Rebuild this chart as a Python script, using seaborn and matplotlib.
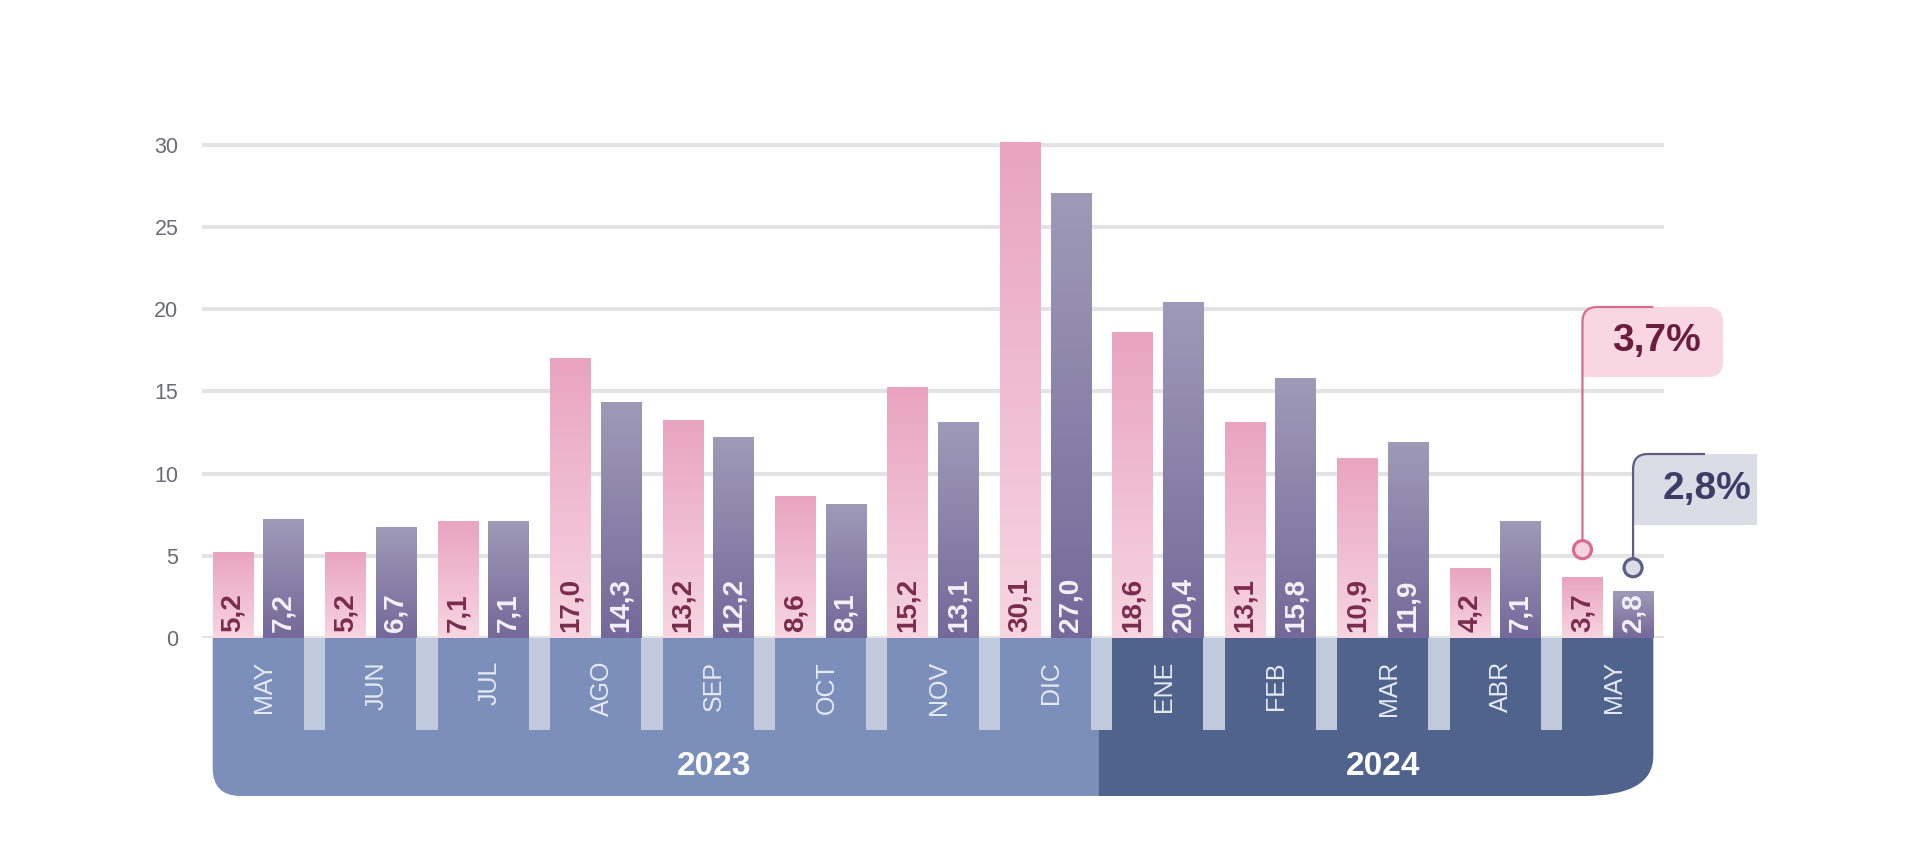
import numpy as np
import pandas as pd
import matplotlib
matplotlib.use("Agg")
import matplotlib.pyplot as plt
import seaborn as sns
from matplotlib import font_manager
from matplotlib.path import Path
from matplotlib.patches import PathPatch, Circle
from matplotlib.colors import LinearSegmentedColormap

# ---------------- data ----------------
periods = ["2023-05", "2023-06", "2023-07", "2023-08", "2023-09", "2023-10", "2023-11",
           "2023-12", "2024-01", "2024-02", "2024-03", "2024-04", "2024-05"]
month_labels = ["MAY", "JUN", "JUL", "AGO", "SEP", "OCT", "NOV", "DIC",
                "ENE", "FEB", "MAR", "ABR", "MAY"]
year_labels = ["2023", "2024"]
pink_values = [5.2, 5.2, 7.1, 17.0, 13.2, 8.6, 15.2, 30.1, 18.6, 13.1, 10.9, 4.2, 3.7]
purple_values = [7.2, 6.7, 7.1, 14.3, 12.2, 8.1, 13.1, 27.0, 20.4, 15.8, 11.9, 7.1, 2.8]
series_names = ["Serie rosa", "Serie violeta"]
callout_labels = ["3,7%", "2,8%"]
y_ticks = [0, 5, 10, 15, 20, 25, 30]

# ---------------- style ----------------
sns.set_theme(style="white")
plt.rcParams["font.family"] = ["Liberation Sans", "DejaVu Sans"]
installed = {f.name for f in font_manager.fontManager.ttflist}
month_font = ["Liberation Sans Narrow"] if "Liberation Sans Narrow" in installed else ["Liberation Sans"]
month_size = 22 if "Liberation Sans Narrow" in installed else 18

df = pd.DataFrame({
    "period": periods * 2,
    "value": pink_values + purple_values,
    "serie": [series_names[0]] * len(periods) + [series_names[1]] * len(periods),
})

W, H = 1920, 856
fig = plt.figure(figsize=(W / 100, H / 100), dpi=100, facecolor="white")
PX_PER_UNIT = 16.45
BASE_Y = 638
YMAX = 31
ax = fig.add_axes([202 / W, (H - BASE_Y) / H, 1462 / W, YMAX * PX_PER_UNIT / H])

sns.barplot(data=df, x="period", y="value", hue="serie", order=periods,
            hue_order=series_names, palette=["#eaa6c0", "#9a94b4"],
            width=0.9, gap=0.2, legend=False, errorbar=None, saturation=1,
            linewidth=0, ax=ax)
ax.set_xlim(-0.5, len(periods) - 0.5)
ax.set_ylim(0, YMAX)

# gradients on bars
grad_cols = [("#f7d5e1", "#e9a4bf"), ("#74699a", "#9f9ab8")]  # (bottom, top)
grad = np.linspace(0, 1, 256).reshape(-1, 1)
for cont, (cb, ct) in zip(ax.containers, grad_cols):
    cmap = LinearSegmentedColormap.from_list("g", [cb, ct])
    for bar in cont:
        x0, y0 = bar.get_x(), bar.get_y()
        w, h = bar.get_width(), bar.get_height()
        ax.imshow(grad, extent=[x0, x0 + w, y0, y0 + h], origin="lower",
                  cmap=cmap, aspect="auto", interpolation="bilinear",
                  zorder=bar.get_zorder() + 0.1)
ax.set_xlim(-0.5, len(periods) - 0.5)
ax.set_ylim(0, YMAX)
ax.set_aspect("auto")

# grid / axes styling
ax.set_yticks(y_ticks)
ax.set_yticklabels([str(t) for t in y_ticks])
ax.yaxis.grid(True, color="#e3e3e3", linewidth=2.9)
ax.xaxis.grid(False)
ax.set_axisbelow(True)
ax.tick_params(axis="y", length=0, pad=17, labelsize=15.5, labelcolor="#6a6a78")
ax.tick_params(axis="x", length=0, labelbottom=False)
ax.set_xlabel("")
ax.set_ylabel("")
sns.despine(ax=ax, left=True, bottom=True)
ax.set_facecolor("white")

# value labels inside bars
label_cols = ["#7a2c4e", "#f3f1f8"]
for cont, vals, col in zip(ax.containers, [pink_values, purple_values], label_cols):
    for bar, v in zip(cont, vals):
        ax.text(bar.get_x() + bar.get_width() / 2, 0.36, f"{v:.1f}".replace(".", ","),
                rotation=90, ha="center", va="bottom", fontsize=20,
                fontweight="bold", color=col, zorder=5)

# ---------------- overlay (pixel space) ----------------
ov = fig.add_axes([0, 0, 1, 1], zorder=5)
ov.set_xlim(0, W)
ov.set_ylim(0, H)
ov.axis("off")
ov.patch.set_visible(False)


def px(x, y):
    return ax.transData.transform((x, y))


pink_bars = list(ax.containers[0])
purple_bars = list(ax.containers[1])
band_left = px(pink_bars[0].get_x(), 0)[0]
band_right = px(purple_bars[-1].get_x() + purple_bars[-1].get_width(), 0)[0]
split = px(7.47, 0)[0]
top_y = H - BASE_Y
month_bottom = H - 730
band_bottom = H - 796

M, L, C3, CL = Path.MOVETO, Path.LINETO, Path.CURVE3, Path.CLOSEPOLY

# 2023 band (bottom-left rounded)
r = 28
verts = [(split, top_y), (band_left, top_y), (band_left, band_bottom + r),
         (band_left, band_bottom), (band_left + r, band_bottom), (split, band_bottom),
         (split, top_y)]
codes = [M, L, L, C3, C3, L, CL]
ov.add_patch(PathPatch(Path(verts, codes), facecolor="#7b8fba", edgecolor="none", zorder=1))
# 2024 band (bottom-right rounded, elliptical)
rx, ry = 70, 40
verts = [(split, top_y), (band_right, top_y), (band_right, band_bottom + ry),
         (band_right, band_bottom), (band_right - rx, band_bottom), (split, band_bottom),
         (split, top_y)]
ov.add_patch(PathPatch(Path(verts, codes), facecolor="#50638d", edgecolor="none", zorder=1))

# separators between month boxes
for i in range(len(periods) - 1):
    xa = px(purple_bars[i].get_x() + purple_bars[i].get_width(), 0)[0]
    xb = px(pink_bars[i + 1].get_x(), 0)[0]
    ov.add_patch(plt.Rectangle((xa, month_bottom), xb - xa, top_y - month_bottom,
                               facecolor="#c1c9dd", edgecolor="none", zorder=2))

# month labels
for i, lab in enumerate(month_labels):
    xc = px(i, 0)[0] + 6
    ov.text(xc, H - 661, lab, rotation=90, ha="center", va="top", fontsize=month_size,
            family=month_font, color="#e6eaf4", zorder=3)

# year labels
for xpos, lab in zip([4.05, 10.0], year_labels):
    ov.text(px(xpos, 0)[0], H - 775, lab, ha="center", va="baseline", fontsize=24,
            fontweight="bold", color="white", zorder=3)


# ---------------- callouts ----------------
def callout(bar, value, offset, top_px, stroke_end, box_right, box_bottom_px,
            line_col, fill_col, circ_fill, text, text_col, rounded):
    lx = px(bar.get_x() + bar.get_width() / 2, 0)[0]
    cy = px(0, value + offset)[1]
    T = H - top_px
    B = H - box_bottom_px
    R = box_right
    rr = 15
    if rounded:
        verts = [(lx, B), (lx, T - rr), (lx, T), (lx + rr, T), (R - rr, T), (R, T),
                 (R, T - rr), (R, B + rr), (R, B), (R - rr, B), (lx, B), (lx, B)]
        codes = [M, L, C3, C3, L, C3, C3, L, C3, C3, L, CL]
    else:
        verts = [(lx, B), (lx, T - rr), (lx, T), (lx + rr, T), (R, T), (R, B),
                 (lx, B), (lx, B)]
        codes = [M, L, C3, C3, L, L, L, CL]
    ov.add_patch(PathPatch(Path(verts, codes), facecolor=fill_col, edgecolor="none", zorder=6))
    crad = 9
    sv = [(lx, cy + crad), (lx, T - rr), (lx, T), (lx + rr, T), (stroke_end, T)]
    sc = [M, L, C3, C3, L]
    ov.add_patch(PathPatch(Path(sv, sc), facecolor="none", edgecolor=line_col,
                           linewidth=1.6, zorder=7))
    ov.add_patch(Circle((lx, cy), crad, facecolor=circ_fill, edgecolor=line_col,
                        linewidth=2.3, zorder=8))
    ov.text(lx + 74, (T + B) / 2 + 1, text, ha="center", va="center", fontsize=28,
            fontweight="bold", color=text_col, zorder=9)


callout(pink_bars[-1], pink_values[-1], 1.67, 307, band_right, 1723, 377,
        "#d66d91", "#f8d7e3", "#f6d3df", callout_labels[0], "#6b1d3e", True)
callout(purple_bars[-1], purple_values[-1], 1.47, 454, 1705, 1757, 525,
        "#5e5e80", "#dcdce6", "#dcdce6", callout_labels[1], "#3d3d68", False)

fig.savefig("out.png", dpi=100, facecolor="white")
